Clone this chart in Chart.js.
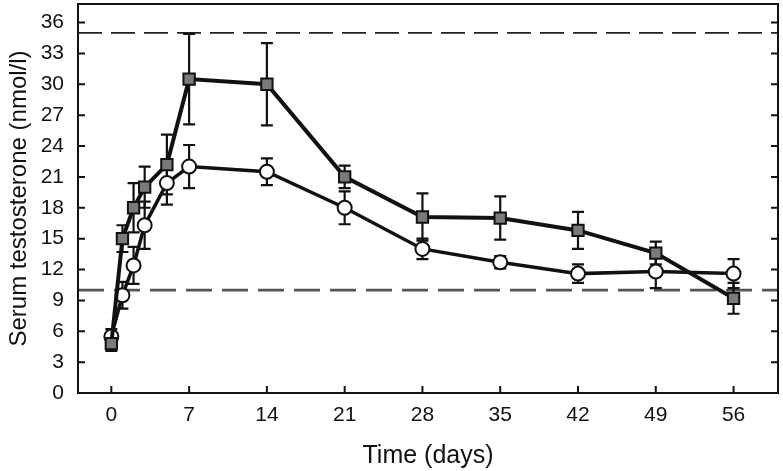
<!DOCTYPE html>
<html>
<head>
<meta charset="utf-8">
<script src="https://cdn.jsdelivr.net/npm/chart.js@4.4.1/dist/chart.umd.min.js"></script>
<style>
  html, body { margin: 0; padding: 0; background: #fff; }
  #wrap { width: 783px; height: 471px; }
</style>
</head>
<body>
<div id="wrap"><canvas id="chart" width="783" height="471"></canvas></div>
<script>
// sampling days
const days = [0, 1, 2, 3, 5, 7, 14, 21, 28, 35, 42, 49, 56];

// square markers (grey filled)
const squareMean = [4.8, 15.0, 18.0, 20.0, 22.2, 30.5, 30.0, 21.0, 17.1, 17.0, 15.8, 13.6, 9.2];
const squareErr  = [0.7, 1.3, 2.4, 2.0, 2.9, 4.4, 4.0, 1.1, 2.3, 2.1, 1.8, 1.1, 1.5];

// open circle markers
const circleMean = [5.5, 9.5, 12.4, 16.3, 20.4, 22.0, 21.5, 18.0, 14.0, 12.7, 11.6, 11.8, 11.6];
const circleErr  = [0.7, 1.3, 1.8, 2.3, 2.1, 2.1, 1.3, 1.6, 1.0, 0.6, 0.9, 1.6, 1.4];

// reference levels (dashed)
const refLines = [35, 10];

const xTicks = [0, 7, 14, 21, 28, 35, 42, 49, 56];
const yTicks = [0, 3, 6, 9, 12, 15, 18, 21, 24, 27, 30, 33, 36];

const toPoints = (ys) => days.map((d, i) => ({ x: d, y: ys[i] }));

const fontFamily = '"Liberation Sans", Arial, sans-serif';

// dashed lines, error bars, frame and inward ticks
const decorPlugin = {
  id: 'decor',
  beforeDatasetsDraw(chart) {
    const { ctx, chartArea: a, scales: { x, y } } = chart;
    ctx.save();
    // reference lines
    refLines.forEach((v, i) => {
      ctx.beginPath();
      ctx.strokeStyle = i === 0 ? '#222' : '#555';
      ctx.lineWidth = i === 0 ? 1.8 : 2.8;
      ctx.setLineDash(i === 0 ? [24, 9] : [26, 10]);
      const py = y.getPixelForValue(v);
      ctx.moveTo(a.left, py);
      ctx.lineTo(a.right, py);
      ctx.stroke();
    });
    ctx.setLineDash([]);
    // error bars
    const bars = [[squareMean, squareErr], [circleMean, circleErr]];
    ctx.strokeStyle = '#111';
    ctx.lineWidth = 2.2;
    bars.forEach(([m, e]) => {
      days.forEach((d, i) => {
        const px = x.getPixelForValue(d);
        const top = y.getPixelForValue(m[i] + e[i]);
        const bot = y.getPixelForValue(m[i] - e[i]);
        ctx.beginPath();
        ctx.moveTo(px, top); ctx.lineTo(px, bot);
        ctx.moveTo(px - 6, top); ctx.lineTo(px + 6, top);
        ctx.moveTo(px - 6, bot); ctx.lineTo(px + 6, bot);
        ctx.stroke();
      });
    });
    ctx.restore();
  },
  afterDraw(chart) {
    const { ctx, chartArea: a, scales: { x, y } } = chart;
    ctx.save();
    ctx.strokeStyle = '#111';
    ctx.lineWidth = 2;
    ctx.strokeRect(a.left, a.top, a.right - a.left, a.bottom - a.top);
    ctx.beginPath();
    yTicks.forEach(v => {
      const py = y.getPixelForValue(v);
      ctx.moveTo(a.left, py); ctx.lineTo(a.left + 7, py);
      ctx.moveTo(a.right, py); ctx.lineTo(a.right - 7, py);
    });
    xTicks.forEach(v => {
      const px = x.getPixelForValue(v);
      ctx.moveTo(px, a.bottom); ctx.lineTo(px, a.bottom - 7);
    });
    ctx.stroke();
    ctx.restore();
  }
};

new Chart(document.getElementById('chart'), {
  type: 'scatter',
  data: {
    datasets: [
      {
        label: 'squares',
        data: toPoints(squareMean),
        showLine: true,
        borderColor: '#111',
        borderWidth: 4,
        pointStyle: 'rect',
        pointRadius: 8,
        pointBackgroundColor: '#7a7a7a',
        pointBorderColor: '#111',
        pointBorderWidth: 2
      },
      {
        label: 'circles',
        data: toPoints(circleMean),
        showLine: true,
        borderColor: '#111',
        borderWidth: 3.5,
        pointStyle: 'circle',
        pointRadius: 7,
        pointBackgroundColor: '#fff',
        pointBorderColor: '#111',
        pointBorderWidth: 2
      }
    ]
  },
  options: {
    responsive: false,
    animation: false,
    layout: { autoPadding: false, padding: { top: 4, right: 5, left: 0, bottom: 0 } },
    plugins: {
      legend: { display: false },
      tooltip: { enabled: false }
    },
    scales: {
      x: {
        type: 'linear',
        min: -3,
        max: 60,
        afterBuildTicks: s => { s.ticks = xTicks.map(v => ({ value: v })); },
        afterFit: s => { s.height = 78; s.paddingLeft = 0; s.paddingRight = 0; },
        grid: { display: false, drawTicks: false },
        border: { display: false },
        ticks: { padding: 10, color: '#111', font: { family: fontFamily, size: 21 } },
        title: {
          display: true,
          text: 'Time (days)',
          color: '#111',
          font: { family: fontFamily, size: 25 },
          padding: { top: 2, bottom: 0 }
        }
      },
      y: {
        min: 0,
        max: 37.8,
        afterBuildTicks: s => { s.ticks = yTicks.map(v => ({ value: v })); },
        afterFit: s => { s.width = 78; s.paddingTop = 0; s.paddingBottom = 0; },
        grid: { display: false, drawTicks: false },
        border: { display: false },
        ticks: { padding: 14, color: '#111', font: { family: fontFamily, size: 21 } },
        title: {
          display: true,
          text: 'Serum testosterone (nmol/l)',
          color: '#111',
          font: { family: fontFamily, size: 24 },
          padding: { top: 5, bottom: 0 }
        }
      }
    }
  },
  plugins: [decorPlugin]
});
</script>
</body>
</html>
